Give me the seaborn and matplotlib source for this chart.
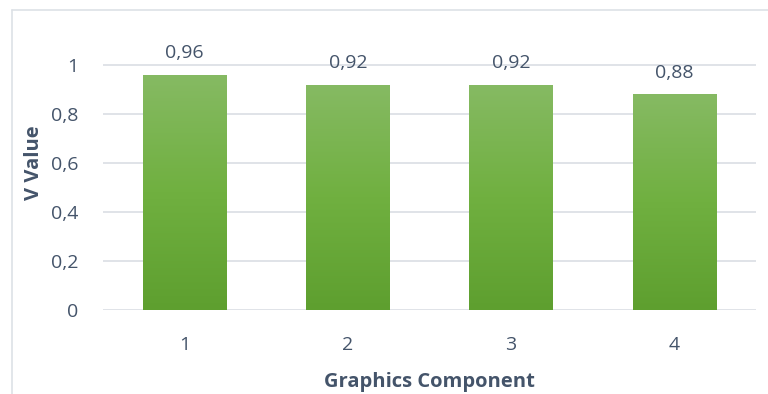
import numpy as np
import pandas as pd
import matplotlib
matplotlib.use("Agg")
import matplotlib.pyplot as plt
import seaborn as sns
from matplotlib.colors import LinearSegmentedColormap
from matplotlib.lines import Line2D

components = ["1", "2", "3", "4"]
v_values = [0.96, 0.92, 0.92, 0.88]
y_ticks = [0, 0.2, 0.4, 0.6, 0.8, 1.0]
y_tick_labels = ["0", "0,2", "0,4", "0,6", "0,8", "1"]

sns.set_theme(style="white")
plt.rcParams["font.family"] = ["Open Sans", "DejaVu Sans"]

text_color = "#44546A"
grid_color = "#DDE1E6"

df = pd.DataFrame({"Graphics Component": components, "V Value": v_values})

fig = plt.figure(figsize=(7.68, 3.94), dpi=100)
ax = fig.add_axes([103 / 768, 1 - 310 / 394, 653 / 768, 294 / 394])

sns.barplot(data=df, x="Graphics Component", y="V Value", color="#70AD47",
            width=0.51, ax=ax, zorder=3)

ax.set_ylim(0, 1.2)
ax.set_xlim(-0.5, len(components) - 0.5)

# vertical green gradient on each bar
cmap = LinearSegmentedColormap.from_list("grn", ["#5E9F2F", "#70B040", "#86BA63"])
grad = np.linspace(0, 1, 256).reshape(-1, 1)
for patch in ax.patches:
    x0, y0 = patch.get_x(), patch.get_y()
    w, h = patch.get_width(), patch.get_height()
    im = ax.imshow(grad, cmap=cmap, origin="lower", aspect="auto",
                   extent=[x0, x0 + w, y0, y0 + h], zorder=3)
    im.set_clip_path(patch)
    patch.set_facecolor("none")
    patch.set_edgecolor("none")

# horizontal gridlines
for t in y_ticks:
    ax.axhline(t, color=grid_color, lw=1.3, zorder=1)

ax.set_yticks(y_ticks)
ax.set_yticklabels(y_tick_labels)
ax.tick_params(axis="y", length=0, pad=18, labelsize=14, labelcolor=text_color)
ax.tick_params(axis="x", length=0, pad=19, labelsize=14, labelcolor=text_color)
for s in ax.spines.values():
    s.set_visible(False)

# value labels above bars
for i, v in enumerate(v_values):
    ax.annotate(f"{v:.2f}".replace(".", ","), (i, v), xytext=(0, 9),
                textcoords="offset points", ha="center", va="bottom",
                fontsize=14, color=text_color)

ax.set_xlabel("Graphics Component", fontsize=14.5, fontweight="bold",
              color=text_color, labelpad=13)
ax.set_ylabel("V Value", fontsize=14.5, fontweight="bold",
              color=text_color, labelpad=5)

# chart frame lines (left and top)
fig.add_artist(Line2D([12 / 768, 12 / 768], [0, 1 - 10 / 394],
                      transform=fig.transFigure, color=grid_color, lw=1.2))
fig.add_artist(Line2D([12 / 768, 1], [1 - 10 / 394, 1 - 10 / 394],
                      transform=fig.transFigure, color=grid_color, lw=1.2))

fig.savefig("out.png", dpi=100, facecolor="white")
